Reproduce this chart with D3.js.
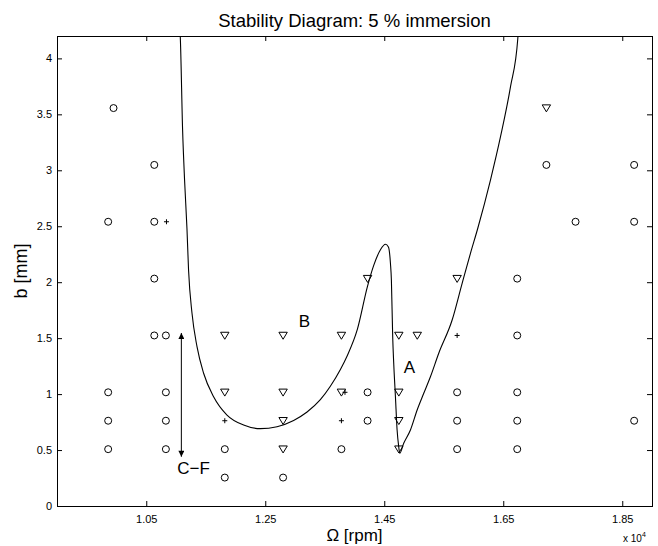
<!DOCTYPE html>
<html>
<head>
<meta charset="utf-8">
<script src="https://cdn.jsdelivr.net/npm/d3@7"></script>
<style>
    body { margin: 0; background: #fff; }
    svg text { font-family: "Liberation Sans", Arial, Helvetica, sans-serif; fill: #000; }
</style>
</head>
<body>
<div id="chart"></div>
<script>

// tick values (spindle speed in rpm, depth of cut in mm)
let xTicks = [10500, 12500, 14500, 16500, 18500];
let yTicks = [0, 0.5, 1, 1.5, 2, 2.5, 3, 3.5, 4];

// stable cuts [rpm, mm]
let stablePts = [
    [9950, 3.556],
    [9860, 2.540], [9860, 1.016], [9860, 0.762], [9860, 0.508],
    [10635, 3.048], [10635, 2.540], [10635, 2.032], [10635, 1.524],
    [10830, 1.524], [10830, 1.016], [10830, 0.762], [10830, 0.508],
    [11820, 0.508], [11820, 0.254],
    [12800, 0.254],
    [13780, 0.508],
    [14220, 1.016], [14220, 0.762],
    [15725, 1.016], [15725, 0.762], [15725, 0.508],
    [16735, 2.032], [16735, 1.524], [16735, 1.016], [16735, 0.762], [16735, 0.508],
    [17225, 3.048],
    [17715, 2.540],
    [18700, 3.048], [18700, 2.540], [18700, 0.762]
];

// chatter cuts [rpm, mm]
let chatterPts = [
    [11820, 1.524], [11820, 1.016],
    [12800, 1.524], [12800, 1.016], [12800, 0.762], [12800, 0.508],
    [13780, 1.524], [13780, 1.016],
    [14220, 2.032],
    [14745, 1.524], [14745, 1.016], [14745, 0.762], [14745, 0.508],
    [15055, 1.524],
    [15725, 2.032],
    [17225, 3.556]
];

// marginal cuts [rpm, mm]
let marginalPts = [
    [10840, 2.540],
    [11820, 0.762],
    [13780, 0.762],
    [13840, 1.016],
    [15725, 1.524]
];

// predicted stability boundary [rpm, mm]
let lobeCurve = [
    [11060, 4.30], [11072, 4.19], [11111, 3.360], [11144, 2.913], [11184, 2.482],
    [11211, 2.109], [11269, 1.722], [11353, 1.424], [11464, 1.186], [11632, 0.977],
    [11857, 0.813], [12136, 0.724], [12417, 0.691], [12698, 0.709], [12977, 0.765],
    [13203, 0.840], [13426, 0.950], [13594, 1.070], [13763, 1.220], [13880, 1.345],
    [14049, 1.580], [14217, 1.960], [14323, 2.150], [14436, 2.290], [14520, 2.339],
    [14570, 2.315], [14604, 2.169], [14620, 2.020], [14642, 1.510], [14659, 1.278],
    [14688, 0.977], [14716, 0.679], [14743, 0.530], [14760, 0.471], [14827, 0.560],
    [14940, 0.679], [15053, 0.858], [15164, 1.007], [15276, 1.155], [15416, 1.365],
    [15641, 1.662], [15809, 1.990], [15949, 2.258], [16072, 2.482], [16285, 2.913],
    [16454, 3.300], [16622, 3.747], [16745, 4.180], [16760, 4.30]
];

// text labels [rpm, mm, text]
let annotations = [
    [13157, 1.60, "B"],
    [14923, 1.19, "A"],
    [11020, 0.29, "C\u2212F"]
];

// C-F arrow ends [rpm, mm]
let cfArrow = [[11090, 1.546], [11090, 0.44]];


// margin, width, height
let margin = {top: 36, right: 6, bottom: 40, left: 57};
let width = 658 - margin.left - margin.right;
let height = 546 - margin.top - margin.bottom;

let svg = d3.select("#chart").append("svg")
    .attr("width", 658)
    .attr("height", 546);

// arrow marker
let defs = svg.append("defs");
defs.append("marker")
    .attr("id", "head")
    .attr("viewBox", "0 0 10 10")
    .attr("refX", 10).attr("refY", 5)
    .attr("markerWidth", 10).attr("markerHeight", 6)
    .attr("markerUnits", "userSpaceOnUse")
    .attr("orient", "auto-start-reverse")
    .append("path")
    .attr("d", "M0,0L10,5L0,10Z")
    .attr("fill", "#000");

defs.append("clipPath")
    .attr("id", "plotClip")
    .append("rect")
    .attr("width", width)
    .attr("height", height);

let g = svg.append("g")
    .attr("transform", `translate(${margin.left}, ${margin.top})`);

// scales
let x = d3.scaleLinear().domain([9000, 19000]).range([0, width]);
let y = d3.scaleLinear().domain([0, 4.2]).range([height, 0]);

let fmtX = d => (d / 1e4).toFixed(2);
let fmtY = d => d3.format("")(d);

// axes, ticks pointing inward like matlab
let axStyle = sel => {
    sel.select(".domain").remove();
    sel.selectAll("line").attr("stroke", "#000");
    sel.selectAll("text").style("font-size", "11px");
};

g.append("g")
    .attr("transform", `translate(0, ${height})`)
    .call(d3.axisBottom(x).tickValues(xTicks).tickFormat(fmtX).tickSizeInner(-5).tickSizeOuter(0).tickPadding(9))
    .call(axStyle);

g.append("g")
    .call(d3.axisTop(x).tickValues(xTicks).tickFormat("").tickSizeInner(-5).tickSizeOuter(0))
    .call(axStyle);

g.append("g")
    .call(d3.axisLeft(y).tickValues(yTicks).tickFormat(fmtY).tickSizeInner(-5).tickSizeOuter(0).tickPadding(5))
    .call(axStyle);

g.append("g")
    .attr("transform", `translate(${width}, 0)`)
    .call(d3.axisRight(y).tickValues(yTicks).tickFormat("").tickSizeInner(-5).tickSizeOuter(0))
    .call(axStyle);

// frame
g.append("rect")
    .attr("x", 0.5).attr("y", 0.5)
    .attr("width", width).attr("height", height)
    .attr("fill", "none")
    .attr("stroke", "#000")
    .attr("stroke-width", 1);

// stability lobe
let line = d3.line()
    .x(d => x(d[0]))
    .y(d => y(d[1]))
    .curve(d3.curveMonotoneX);

g.append("path")
    .datum(lobeCurve)
    .attr("clip-path", "url(#plotClip)")
    .attr("d", line)
    .attr("fill", "none")
    .attr("stroke", "#000")
    .attr("stroke-width", 1.1);

// markers
g.selectAll(".stable")
    .data(stablePts)
    .enter().append("circle")
    .attr("class", "stable")
    .attr("cx", d => x(d[0]))
    .attr("cy", d => y(d[1]))
    .attr("r", 3.5)
    .attr("fill", "none")
    .attr("stroke", "#000")
    .attr("stroke-width", 1);

g.selectAll(".chatter")
    .data(chatterPts)
    .enter().append("path")
    .attr("class", "chatter")
    .attr("transform", d => `translate(${x(d[0])}, ${y(d[1])})`)
    .attr("d", "M-4.2,-3.2L4.2,-3.2L0,3.8Z")
    .attr("fill", "none")
    .attr("stroke", "#000")
    .attr("stroke-width", 1);

g.selectAll(".marginal")
    .data(marginalPts)
    .enter().append("path")
    .attr("class", "marginal")
    .attr("transform", d => `translate(${x(d[0])}, ${y(d[1])})`)
    .attr("d", "M-2.5,0L2.5,0M0,-2.5L0,2.5")
    .attr("stroke", "#000")
    .attr("stroke-width", 1);

// C-F arrow
g.append("line")
    .attr("x1", x(cfArrow[0][0])).attr("y1", y(cfArrow[0][1]))
    .attr("x2", x(cfArrow[1][0])).attr("y2", y(cfArrow[1][1]))
    .attr("stroke", "#000")
    .attr("stroke-width", 1)
    .attr("marker-start", "url(#head)")
    .attr("marker-end", "url(#head)");

// annotations
g.selectAll(".note")
    .data(annotations)
    .enter().append("text")
    .attr("class", "note")
    .attr("x", d => x(d[0]))
    .attr("y", d => y(d[1]))
    .attr("text-anchor", d => d[2] === "C\u2212F" ? "start" : "middle")
    .style("font-size", "17px")
    .text(d => d[2]);

// title
svg.append("text")
    .attr("x", margin.left + width / 2)
    .attr("y", 27)
    .attr("text-anchor", "middle")
    .style("font-size", "18.5px")
    .text("Stability Diagram: 5 % immersion");

// axis labels
svg.append("text")
    .attr("x", margin.left + width / 2)
    .attr("y", 541)
    .attr("text-anchor", "middle")
    .style("font-size", "17px")
    .text("\u03a9 [rpm]");

svg.append("text")
    .attr("transform", `translate(27, ${margin.top + height / 2}) rotate(-90)`)
    .attr("text-anchor", "middle")
    .style("font-size", "18px")
    .text("b [mm]");

// exponent note
let expo = svg.append("text")
    .attr("x", 623)
    .attr("y", 542)
    .style("font-size", "10px");
expo.append("tspan").text("x 10");
expo.append("tspan").attr("dy", -5).style("font-size", "7px").text("4");

</script>
</body>
</html>
